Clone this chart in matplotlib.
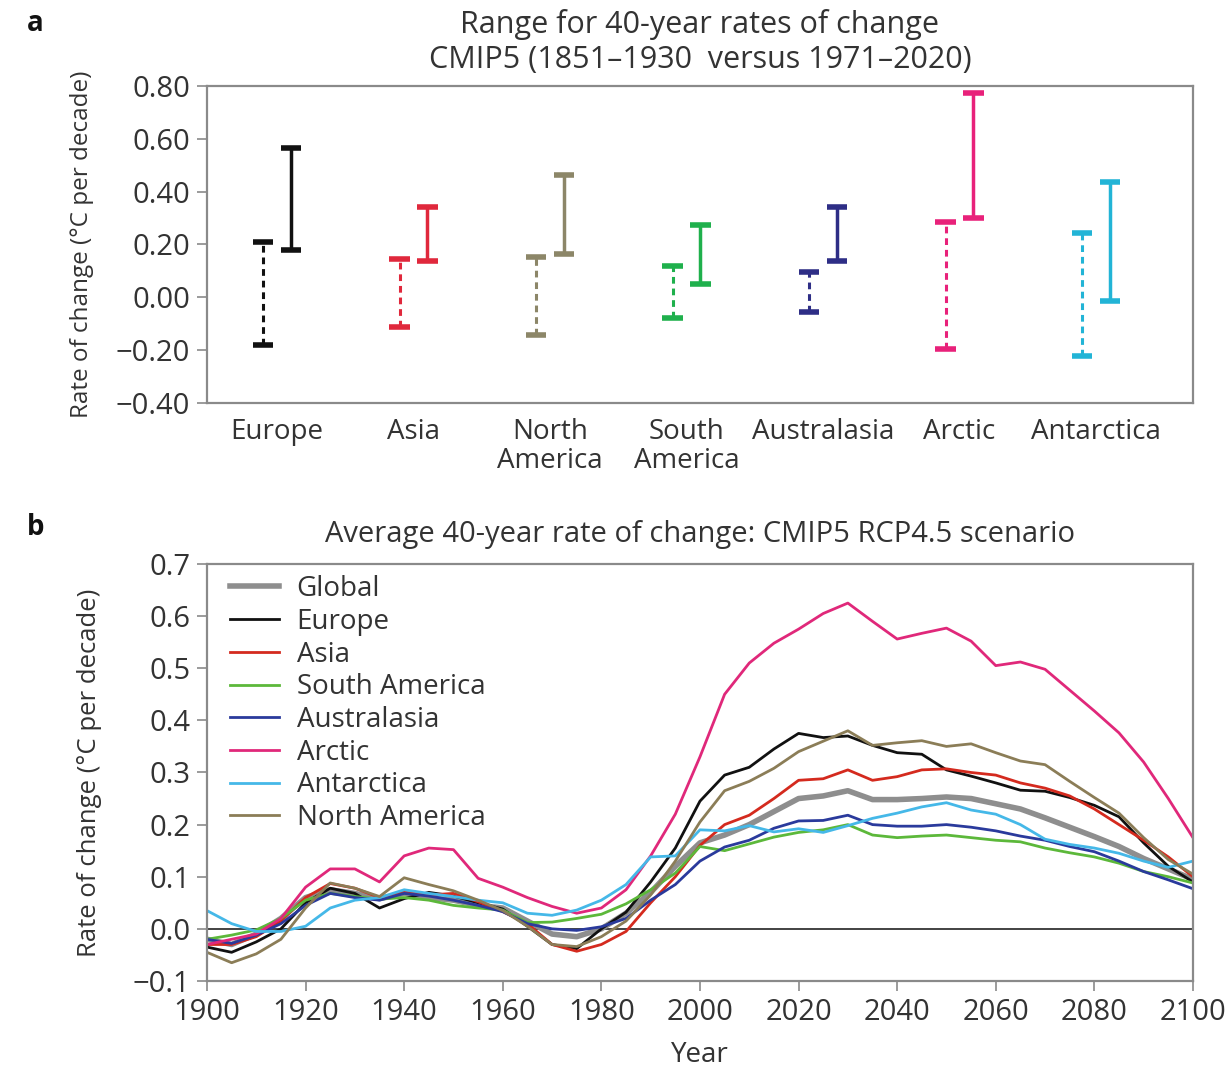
import matplotlib
matplotlib.use("Agg")
import matplotlib.pyplot as plt

plt.rcParams["font.family"] = ["Open Sans", "DejaVu Sans"]
TXT = "#333333"
SPINE = "#8a8a8a"

# ---- panel a: range bars ----
REGIONS = ["Europe", "Asia", "North\nAmerica", "South\nAmerica",
           "Australasia", "Arctic", "Antarctica"]
REGION_COLORS = ["#111111", "#e0283c", "#8c8668", "#1fb04c",
                 "#2e2e86", "#e8217a", "#22b4d6"]
# 1851-1930 (dashed) low / high
EARLY_LO = [-0.18, -0.111, -0.142, -0.077, -0.057, -0.197, -0.222]
EARLY_HI = [0.208, 0.144, 0.154, 0.120, 0.095, 0.284, 0.245]
# 1971-2020 (solid) low / high
LATE_LO = [0.179, 0.138, 0.164, 0.049, 0.138, 0.299, -0.013]
LATE_HI = [0.564, 0.341, 0.461, 0.275, 0.341, 0.775, 0.435]

# ---- panel b: 40-year rates, 5-year steps ----
YEARS = list(range(1900, 2101, 5))
GLOBAL = [-0.02, -0.03, -0.01, 0.02, 0.06, 0.075, 0.068, 0.058, 0.068, 0.06,
          0.055, 0.045, 0.04, 0.015, -0.01, -0.015, 0.0, 0.03, 0.07, 0.12,
          0.165, 0.18, 0.2, 0.225, 0.25, 0.255, 0.265, 0.248, 0.248, 0.25,
          0.253, 0.25, 0.24, 0.23, 0.213, 0.195, 0.177, 0.158, 0.135, 0.115,
          0.095]
EUROPE = [-0.035, -0.045, -0.025, 0.0, 0.05, 0.078, 0.068, 0.04, 0.058, 0.07,
          0.063, 0.05, 0.038, 0.005, -0.03, -0.038, 0.0, 0.032, 0.09, 0.155,
          0.245, 0.295, 0.31, 0.345, 0.375, 0.367, 0.37, 0.352, 0.338, 0.335,
          0.305, 0.293, 0.28, 0.266, 0.264, 0.252, 0.237, 0.215, 0.165, 0.12,
          0.09]
ASIA = [-0.03, -0.03, -0.015, 0.015, 0.06, 0.087, 0.078, 0.06, 0.07, 0.065,
        0.068, 0.052, 0.033, 0.01, -0.03, -0.043, -0.03, -0.005, 0.05, 0.1,
        0.16, 0.2, 0.218, 0.25, 0.285, 0.288, 0.305, 0.285, 0.292, 0.305,
        0.307, 0.3, 0.295, 0.28, 0.27, 0.255, 0.23, 0.2, 0.17, 0.138, 0.1]
S_AMERICA = [-0.02, -0.012, -0.002, 0.02, 0.055, 0.068, 0.062, 0.057, 0.06,
             0.055, 0.045, 0.04, 0.036, 0.012, 0.013, 0.02, 0.028, 0.048,
             0.075, 0.107, 0.158, 0.15, 0.163, 0.176, 0.185, 0.19, 0.2, 0.18,
             0.175, 0.178, 0.18, 0.175, 0.17, 0.167, 0.155, 0.146, 0.138,
             0.126, 0.11, 0.1, 0.088]
AUSTRALASIA = [-0.02, -0.028, -0.012, 0.01, 0.045, 0.068, 0.06, 0.055, 0.068,
               0.063, 0.055, 0.045, 0.033, 0.01, 0.0, -0.003, 0.004, 0.02,
               0.055, 0.085, 0.13, 0.157, 0.17, 0.193, 0.207, 0.208, 0.218,
               0.2, 0.197, 0.197, 0.2, 0.195, 0.188, 0.178, 0.17, 0.158,
               0.148, 0.13, 0.11, 0.094, 0.077]
ARCTIC = [-0.03, -0.02, -0.01, 0.02, 0.08, 0.115, 0.115, 0.09, 0.14, 0.155,
          0.152, 0.097, 0.08, 0.06, 0.043, 0.03, 0.04, 0.075, 0.14, 0.22,
          0.33, 0.45, 0.51, 0.548, 0.575, 0.605, 0.625, 0.59, 0.556, 0.567,
          0.577, 0.552, 0.505, 0.512, 0.498, 0.458, 0.418, 0.376, 0.32, 0.25,
          0.175]
ANTARCTICA = [0.035, 0.01, -0.005, -0.005, 0.005, 0.04, 0.055, 0.06, 0.075,
              0.068, 0.062, 0.055, 0.05, 0.03, 0.026, 0.036, 0.055, 0.085,
              0.138, 0.14, 0.19, 0.188, 0.198, 0.186, 0.192, 0.185, 0.198,
              0.212, 0.222, 0.234, 0.242, 0.228, 0.22, 0.2, 0.172, 0.162,
              0.155, 0.145, 0.13, 0.118, 0.13]
N_AMERICA = [-0.045, -0.065, -0.048, -0.02, 0.04, 0.088, 0.078, 0.062, 0.098,
             0.085, 0.073, 0.055, 0.035, 0.005, -0.03, -0.034, -0.015, 0.015,
             0.065, 0.13, 0.205, 0.265, 0.283, 0.308, 0.34, 0.36, 0.38, 0.352,
             0.357, 0.361, 0.35, 0.355, 0.338, 0.322, 0.315, 0.283, 0.252,
             0.222, 0.175, 0.133, 0.105]

SERIES = [
    ("Global", GLOBAL, "#8e8e8e", 4.0),
    ("Europe", EUROPE, "#111111", 2.0),
    ("Asia", ASIA, "#d42a1e", 2.0),
    ("South America", S_AMERICA, "#5cb83a", 2.0),
    ("Australasia", AUSTRALASIA, "#2a3a9c", 2.0),
    ("Arctic", ARCTIC, "#e0287a", 2.0),
    ("Antarctica", ANTARCTICA, "#45b8e8", 2.0),
    ("North America", N_AMERICA, "#8b7d57", 2.0),
]

fig = plt.figure(figsize=(12.32, 10.7), dpi=100)

# ---------------- panel a ----------------
ax1 = fig.add_axes([0.168, 0.6234, 0.8003, 0.2963])
off, cap = 0.102, 0.075
for i, c in enumerate(REGION_COLORS):
    xd, xs = i - off, i + off
    ax1.vlines(xd, EARLY_LO[i], EARLY_HI[i], color=c, lw=2.2,
               linestyles=(0, (2.2, 1.6)))
    ax1.hlines([EARLY_LO[i], EARLY_HI[i]], xd - cap, xd + cap, color=c, lw=4)
    ax1.vlines(xs, LATE_LO[i], LATE_HI[i], color=c, lw=2.5)
    ax1.hlines([LATE_LO[i], LATE_HI[i]], xs - cap, xs + cap, color=c, lw=4)

ax1.set_xlim(-0.513, 6.71)
ax1.set_ylim(-0.40, 0.80)
ax1.set_yticks([-0.4, -0.2, 0.0, 0.2, 0.4, 0.6, 0.8])
ax1.set_yticklabels([f"{v:.2f}".replace("-", "\u2212") for v in
                     [-0.4, -0.2, 0.0, 0.2, 0.4, 0.6, 0.8]])
ax1.set_xticks(range(len(REGIONS)))
ax1.set_xticklabels(REGIONS, linespacing=1.05)
ax1.tick_params(axis="x", length=0, pad=11, labelsize=20, colors=TXT)
ax1.tick_params(axis="y", length=7, width=1.2, color=SPINE, labelsize=21,
                labelcolor=TXT, pad=5)
ax1.set_ylabel("Rate of change (\u00b0C per decade)", fontsize=17.5,
               color=TXT, labelpad=16)
ax1.set_title("Range for 40-year rates of change\n"
              "CMIP5 (1851\u20131930  versus 1971\u20132020)",
              fontsize=22, color=TXT, pad=13, linespacing=1.2)
for s in ax1.spines.values():
    s.set_color(SPINE); s.set_linewidth(1.6)

# ---------------- panel b ----------------
ax2 = fig.add_axes([0.168, 0.0832, 0.8003, 0.3897])
ax2.axhline(0, color="#222222", lw=1.2)
for name, vals, c, lw in SERIES:
    ax2.plot(YEARS, vals, color=c, lw=lw, label=name)
ax2.set_xlim(1900, 2100)
ax2.set_ylim(-0.1, 0.7)
ax2.set_xticks(range(1900, 2101, 20))
ax2.set_yticks([-0.1, 0.0, 0.1, 0.2, 0.3, 0.4, 0.5, 0.6, 0.7])
ax2.set_yticklabels([f"{v:.1f}".replace("-", "\u2212") for v in
                     [-0.1, 0.0, 0.1, 0.2, 0.3, 0.4, 0.5, 0.6, 0.7]])
ax2.tick_params(length=7, width=1.2, color=SPINE, labelsize=21,
                labelcolor=TXT, pad=5)
ax2.set_xlabel("Year", fontsize=20, color=TXT, labelpad=10)
ax2.set_ylabel("Rate of change (\u00b0C per decade)", fontsize=18.5,
               color=TXT, labelpad=22)
ax2.set_title("Average 40-year rate of change: CMIP5 RCP4.5 scenario",
              fontsize=21, color=TXT, pad=16)
for s in ax2.spines.values():
    s.set_color(SPINE); s.set_linewidth(1.6)
leg = ax2.legend(loc="upper left", frameon=False, fontsize=20,
                 handlelength=1.75, handletextpad=0.65, labelspacing=0.17,
                 borderaxespad=0.0, bbox_to_anchor=(0.012, 1.0))
for t in leg.get_texts():
    t.set_color(TXT)

fig.text(0.022, 0.978, "a", fontsize=20, fontweight="bold", color="#111111",
         va="center")
fig.text(0.022, 0.507, "b", fontsize=20, fontweight="bold", color="#111111",
         va="center")

fig.savefig("out.png", dpi=100, facecolor="white")
